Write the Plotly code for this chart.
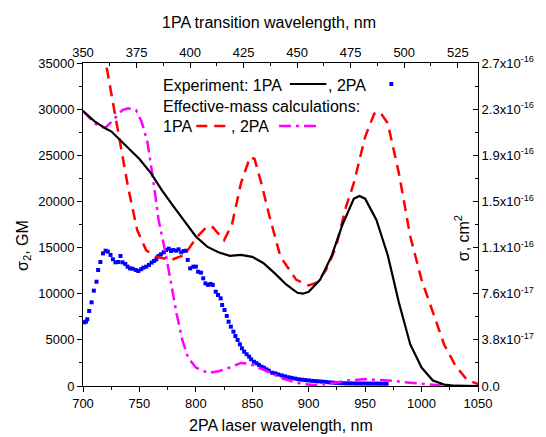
import plotly.graph_objects as go

# 1PA experiment (black solid), GM-equivalent scale
exp1_x = [700, 705, 710, 715, 720, 725, 730, 740, 750, 760, 770, 780, 790, 800, 810, 820, 830, 840, 850,
          860, 870, 880, 890, 895, 900, 910, 920, 930, 940, 945, 950, 960, 970, 980, 990, 1000, 1010, 1020, 1030, 1050]
exp1_y = [29800, 29200, 28700, 28300, 27900, 27600, 27000, 25800, 24600, 23100, 21200, 19500, 17800, 16200, 15100,
          14500, 14100, 14200, 14000, 13300, 12200, 11000, 10100, 10000, 10200, 11500, 14000, 17500, 20300, 20600,
          20300, 18000, 14200, 9000, 4500, 2000, 600, 150, 30, 0]

# 2PA experiment (blue squares), GM
exp2_x = [701, 702.6, 703.8, 705.5, 707.6, 709.6, 712, 713.4, 715.4, 717.7, 720, 722, 724.4, 726.5, 728.8, 731.4,
          733.2, 735, 737.5, 739.5, 741.6, 743.9, 746.8, 749, 751.5, 753.5, 756, 758.5, 760.8, 763, 765, 767, 769,
          771.5, 773.6, 776, 778, 780, 782.6, 784.7, 787, 789.3, 791.3, 792.8, 795, 797.8, 800, 802, 804.5, 806.5,
          808.5, 810.8, 813, 815, 817.6, 819.6, 822, 823.3, 825.4, 827.4, 829, 831, 833.3, 835, 837, 839, 840.8,
          842.8, 845, 847.2, 849, 851.5, 853.9, 855.9, 858.2, 860.3, 862.6, 864.6, 867.6, 870.4, 873, 876, 879,
          882, 885, 888, 891, 894, 897, 900, 903, 906, 909, 912, 915, 918, 921, 924, 927, 930, 933, 936, 939, 942,
          945, 948, 951, 954, 957, 960, 963, 966, 969]
exp2_y = [6900, 6970, 7230, 8130, 9070, 10330, 11300, 12570, 13440, 14370, 14660, 14560, 14200, 13730, 13400, 13440,
          14090, 13400, 13220, 12930, 12750, 12710, 12570, 12460, 12650, 12820, 12930, 13120, 13370, 13550, 13730,
          14090, 14270, 14490, 14740, 14880, 14630, 14740, 14660, 14810, 14490, 14630, 14660, 13660, 12750, 12930,
          12930, 12380, 12280, 11670, 11120, 10950, 11060, 10950, 10220, 9860, 9500, 8780, 8240, 7590, 6970, 6430,
          5890, 5420, 4990, 4520, 4090, 3720, 3440, 3180, 2890, 2630, 2460, 2280, 2090, 1980, 1800, 1660, 1440,
          1370, 1250, 1150, 1050, 950, 880, 800, 730, 680, 640, 600, 560, 530, 500, 470, 440, 400, 370, 340, 320,
          300, 290, 280, 280, 270, 270, 270, 260, 260, 260, 260, 250, 250, 250]

# Effective-mass calculation, 1PA (red dashed)
calc1_x = [721, 730, 740, 748, 756, 765, 778, 790, 800, 810, 815, 825, 832, 840, 848, 852, 858, 865, 875, 889,
           900, 907, 915, 924, 933, 940, 950, 958, 963, 970, 980, 990, 1000, 1010, 1020, 1030, 1040, 1050]
calc1_y = [34500, 28500, 21500, 16900, 14700, 14000, 13650, 14200, 16000, 17300, 17200, 15800, 17500, 22000,
           24800, 24600, 22000, 18500, 14000, 11500, 10900, 11200, 12500, 15000, 19400, 22000, 27000, 29500,
           29700, 28500, 23000, 16200, 11500, 8000, 4500, 2200, 700, 200]

# Effective-mass calculation, 2PA (magenta dash-dot)
calc2_x = [700, 705, 710, 715, 720, 725, 730, 735, 740, 747, 752, 757, 762, 767, 773, 778, 783, 788, 793, 800,
           811, 820, 830, 840, 848, 855, 865, 875, 885, 895, 905, 915, 925, 935, 950, 960, 975, 990, 1005, 1020, 1030]
calc2_y = [29800, 29200, 28500, 28100, 28000, 28600, 29300, 29900, 30100, 29900, 28600, 26500, 22500, 18000,
           14500, 11000, 7800, 5000, 3100, 2000, 1400, 1600, 2000, 2500, 2400, 2000, 1500, 900, 500, 200, 100,
           200, 400, 600, 750, 700, 550, 350, 150, 20, 0]

left_ticks = [0, 5000, 10000, 15000, 20000, 25000, 30000, 35000]
left_ticktext = ["0", "5000", "10000", "15000", "20000", "25000", "30000", "35000"]
right_ticktext = ["0.0", "3.8x10<sup>-17</sup>", "7.6x10<sup>-17</sup>", "1.1x10<sup>-16</sup>",
                  "1.5x10<sup>-16</sup>", "1.9x10<sup>-16</sup>", "2.3x10<sup>-16</sup>", "2.7x10<sup>-16</sup>"]

FONT = "Liberation Sans, Arial, sans-serif"
W, H = 546, 437
L, R, T, B = 83, 62, 63, 51
PW, PH = W - L - R, H - T - B


def px(x):
    return (x - L) / PW


def py(y):
    return (H - B - y) / PH


fig = go.Figure()
fig.add_trace(go.Scatter(x=exp2_x, y=exp2_y, mode="markers",
                         marker=dict(symbol="square", size=4, color="#0000FF", line=dict(width=0)),
                         showlegend=False))
fig.add_trace(go.Scatter(x=calc2_x, y=calc2_y, mode="lines",
                         line=dict(color="#FF00FF", width=2.5, dash="12px,5px,3px,5px"), showlegend=False))
fig.add_trace(go.Scatter(x=calc1_x, y=calc1_y, mode="lines",
                         line=dict(color="#FF0000", width=2.5, dash="11px,7px"), showlegend=False))
fig.add_trace(go.Scatter(x=exp1_x, y=exp1_y, mode="lines",
                         line=dict(color="#000000", width=2.2), showlegend=False))
# invisible trace to activate secondary axes
fig.add_trace(go.Scatter(x=[350], y=[0], xaxis="x2", yaxis="y2", mode="markers",
                         marker=dict(opacity=0), showlegend=False, hoverinfo="skip"))

axis_common = dict(showline=True, linecolor="black", linewidth=1, showgrid=False, zeroline=False,
                   ticks="outside", ticklen=5, tickwidth=1, tickcolor="black",
                   tickfont=dict(family=FONT, size=13, color="black"))

fig.update_layout(
    width=W, height=H,
    margin=dict(l=L, r=R, t=T, b=B),
    paper_bgcolor="white", plot_bgcolor="white",
    font=dict(family=FONT, color="black"),
    xaxis=dict(axis_common, range=[700, 1050], dtick=50, tick0=700,
               minor=dict(dtick=25, ticklen=3, tickcolor="black", ticks="outside")),
    yaxis=dict(axis_common, range=[0, 35000], tickmode="array", tickvals=left_ticks, ticktext=left_ticktext,
               minor=dict(dtick=2500, tick0=0, ticklen=3, tickcolor="black", ticks="outside")),
    xaxis2=dict(axis_common, overlaying="x", side="top", range=[350, 534.45], dtick=25, tick0=350,
                ticks="inside",
                minor=dict(dtick=12.5, tick0=350, ticklen=3, tickcolor="black", ticks="inside")),
    yaxis2=dict(axis_common, overlaying="y", side="right", range=[0, 35000], tickmode="array",
                tickvals=left_ticks, ticktext=right_ticktext, ticks="inside",
                minor=dict(dtick=2500, tick0=0, ticklen=3, tickcolor="black", ticks="inside")),
)

ann_font = dict(family=FONT, size=16, color="black")
anns = [
    dict(text="1PA transition wavelength, nm", x=px(272), y=py(22), xanchor="center", yanchor="middle"),
    dict(text="2PA laser wavelength, nm", x=px(284), y=py(425), xanchor="center", yanchor="middle"),
    dict(text="σ<sub>2</sub>, GM", x=px(22), y=py(245), xanchor="center", yanchor="middle", textangle=-90),
    dict(text="σ, cm<sup>2</sup>", x=px(468), y=py(238), xanchor="center", yanchor="middle", textangle=-90),
    dict(text="Experiment: 1PA", x=px(162), y=py(85), xanchor="left", yanchor="middle"),
    dict(text=", 2PA", x=px(330), y=py(85), xanchor="left", yanchor="middle"),
    dict(text="Effective-mass calculations:", x=px(162), y=py(106), xanchor="left", yanchor="middle"),
    dict(text="1PA", x=px(162), y=py(127), xanchor="left", yanchor="middle"),
    dict(text=", 2PA", x=px(231), y=py(127), xanchor="left", yanchor="middle"),
]
for a in anns:
    a.update(xref="paper", yref="paper", showarrow=False, font=ann_font)
fig.update_layout(annotations=anns)

shapes = [
    dict(type="line", x0=px(293), x1=px(330), y0=py(84), y1=py(84), line=dict(color="black", width=2.2)),
    dict(type="rect", x0=px(394), x1=px(398), y0=py(86), y1=py(82), line=dict(width=0), fillcolor="#0000FF"),
    dict(type="line", x0=px(198), x1=px(232), y0=py(126), y1=py(126),
         line=dict(color="#FF0000", width=2.5, dash="11px,7px")),
    dict(type="line", x0=px(282), x1=px(322), y0=py(126), y1=py(126),
         line=dict(color="#FF00FF", width=2.5, dash="12px,5px,3px,5px")),
]
for s in shapes:
    s.update(xref="paper", yref="paper")
fig.update_layout(shapes=shapes)

fig.write_html("out.html")
